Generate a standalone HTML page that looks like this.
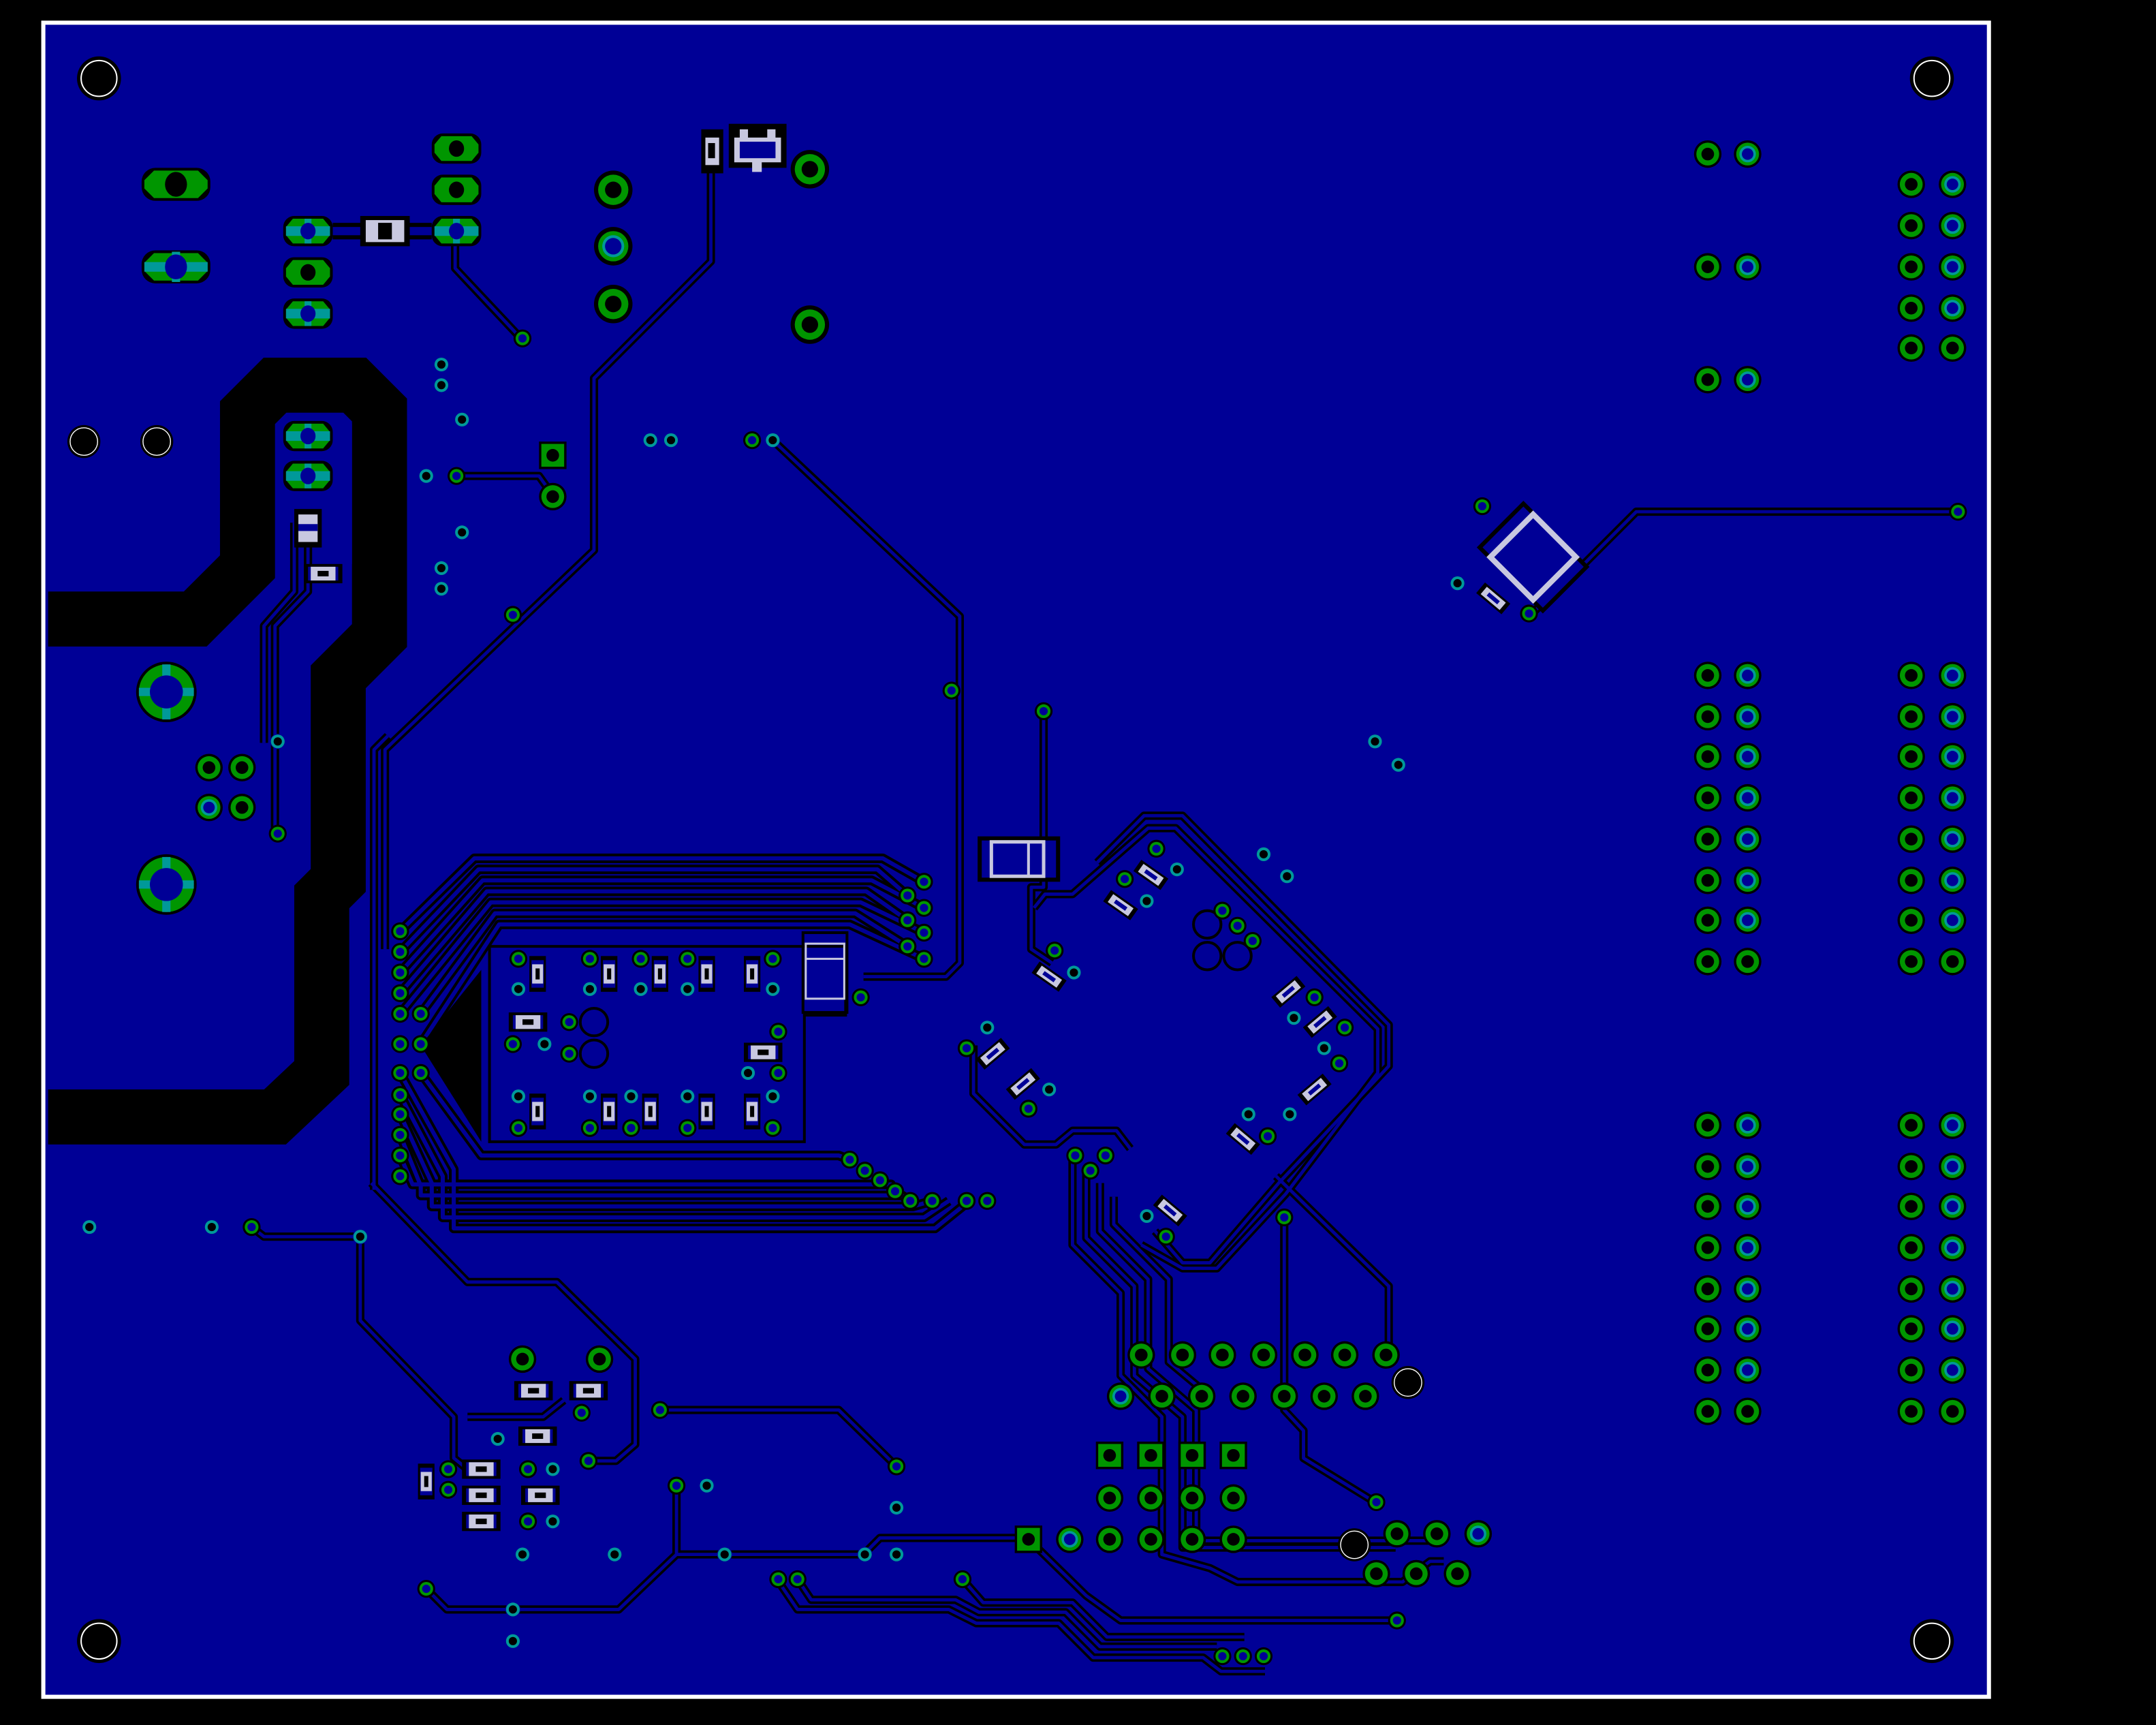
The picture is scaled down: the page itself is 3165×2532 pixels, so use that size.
<!DOCTYPE html>
<html><head><meta charset="utf-8"><style>html,body{margin:0;padding:0;background:#000}svg{display:block}</style></head>
<body>
<svg xmlns="http://www.w3.org/2000/svg" xmlns:xlink="http://www.w3.org/1999/xlink" width="3165" height="2532" viewBox="0 0 1568 1254" preserveAspectRatio="none">
<defs>
<g id="pad"><circle r="10" fill="#000"/><circle r="8.3" fill="#009600"/><circle r="4.6" fill="#000"/></g>
<g id="padc"><circle r="10" fill="#000"/><circle r="8.3" fill="#009600"/><circle r="6" fill="#009999"/><circle r="4.2" fill="#000096"/></g>
<g id="sq"><rect x="-10" y="-10" width="20" height="20" fill="#000"/><rect x="-8.3" y="-8.3" width="16.6" height="16.6" fill="#009600"/><circle r="4.6" fill="#000"/></g>
<g id="vg"><circle r="6.5" fill="#000"/><circle r="5" fill="#009600"/><circle r="3" fill="#000096"/></g>
<g id="vc"><circle r="5.5" fill="#000096"/><circle r="5" fill="#009999"/><circle r="3" fill="#000"/></g>
<g id="hole"><circle r="16" fill="#000"/><circle r="13" fill="none" stroke="#fff" stroke-width="1"/></g>
<g id="hs"><circle r="12" fill="#000"/><circle r="10" fill="none" stroke="#fff" stroke-width="0.7"/></g>
<g id="ov"><rect x="-25" y="-12" width="50" height="24" rx="10" fill="#000"/><path d="M-16,-10 H16 L23,-3 V3 L16,10 H-16 L-23,3 V-3Z" fill="#009600"/><ellipse rx="8" ry="9" fill="#000"/></g>
<g id="ovs"><rect x="-18" y="-11" width="36" height="22" rx="8" fill="#000"/><path d="M-11,-9 H11 L16,-3 V3 L11,9 H-11 L-16,3 V-3Z" fill="#009600"/><ellipse rx="5.5" ry="6" fill="#000"/></g>
<g id="ovc"><rect x="-18" y="-11" width="36" height="22" rx="8" fill="#000"/><path d="M-11,-9 H11 L16,-3 V3 L11,9 H-11 L-16,3 V-3Z" fill="#009600"/><rect x="-16" y="-3.5" width="32" height="7" fill="#009999"/><rect x="-2.5" y="-9" width="5" height="18" fill="#009999"/><ellipse rx="5.5" ry="6" fill="#000096"/></g>
<g id="ring"><circle r="22" fill="#000"/><circle r="20" fill="#009600"/><rect x="-20" y="-3" width="40" height="6" fill="#009999"/><rect x="-3" y="-20" width="6" height="40" fill="#009999"/><circle r="12" fill="#000096"/></g>
<g id="smd"><rect x="-9" y="-9" width="18" height="18" fill="#000"/><rect x="-7" y="-5" width="14" height="10" fill="#000096"/><rect x="-5" y="-5" width="10" height="10" fill="#c8c8e0"/><rect x="-2" y="-3" width="4" height="6" fill="#000"/></g>
<g id="smv"><rect x="-6" y="-13" width="12" height="26" fill="#000"/><rect x="-4.5" y="-10" width="9" height="20" fill="#000096"/><rect x="-4" y="-7" width="8" height="14" fill="#c8c8e0"/><rect x="-1.5" y="-4" width="3" height="8" fill="#000"/></g>
<g id="smh"><rect x="-14" y="-7" width="28" height="14" fill="#000"/><rect x="-11" y="-5" width="22" height="10" fill="#000096"/><rect x="-9" y="-5" width="18" height="10" fill="#c8c8e0"/><rect x="-4" y="-2" width="8" height="4" fill="#000"/></g>
<g id="dia"><rect x="-12" y="-5" width="24" height="10" fill="#000"/><rect x="-9" y="-3.5" width="18" height="7" fill="#c8c8e0"/><rect x="-5" y="-1.5" width="10" height="3" fill="#000096"/></g>
<g id="tr">
<path d="M331,168 V195 L378,245"/>
<path d="M517,110 V190 L432,275 V400 L280,545 V690"/>
<path d="M562,320 L698,448 V700 L688,710 H628"/>
<path d="M759,517 V645 H750 V690 L765,700"/>
<path d="M332,346 H392 L402,360"/>
<path d="M224,380 V430 L200,455 V605"/>
<path d="M214,380 V430 L192,455 V540"/>
<path d="M183,892 L192,899 H262"/>
<path d="M1112,448 L1150,412 L1190,372 H1424"/>
<path d="M934,885 V1025 L948,1040 V1060 L1000,1092"/>
<path d="M928,855 L1010,935 V985"/>
<path d="M480,1025 H610 L652,1066"/>
<path d="M492,1080 V1130 H628 L640,1118 H748"/>
<path d="M310,1155 L325,1170 H450 L492,1130"/>
<path d="M565,1148 L580,1170 H690 L710,1180 H770 L795,1205 H875 L888,1215 H920"/>
<path d="M580,1148 L590,1163 H695 L712,1172 H775 L800,1197 H885"/>
<path d="M700,1148 L715,1165 H780 L805,1190 H905"/>
<path d="M748,1119 L790,1160 L815,1178 H1016"/>
<path d="M780,840 V905 L815,940 V1000 L845,1030 V1130 L880,1140 L900,1150 H1020 L1040,1135 L1050,1135"/>
<path d="M790,850 V900 L825,935 V1000 L860,1030 V1125 H1015"/>
<path d="M800,860 V895 L835,930 V995 L870,1025 V1120 H1050"/>
<path d="M810,870 V890 L850,930 V990 L880,1015"/>
<path d="M270,860 L340,932 H405 L462,988 V1050 L448,1062 H428"/>
<path d="M262,900 V960 L330,1030 V1060 L340,1068"/>
<path d="M340,1030 H395 L410,1018"/>
<path d="M840,895 L860,918 H880 L930,860 L1010,775 V745 L860,593 H832 L798,627"/>
<path d="M830,905 L860,922 H885 L935,868 L1002,780 V748 L855,602 H835 L780,650 H760 L752,660"/>
<path d="M708,760 V795 L745,832 H768 L780,822 H812 L822,835"/>
<path d="M272,865 V545 L282,535"/>
</g>
<g id="bus">
<path d="M291,677 L345,624 H642 L672,641"/>
<path d="M291,692 L348,632 H638 L660,651"/>
<path d="M291,707 L351,640 H634 L672,660"/>
<path d="M291,722 L354,648 H630 L660,669"/>
<path d="M291,737 L357,656 H626 L672,678"/>
<path d="M306,737 L360,664 H622 L660,688"/>
<path d="M306,759 L363,672 H618 L672,697"/>
<path d="M291,780 L330,850 V893 H680 L705,873"/>
<path d="M291,796 L322,855 V885 H672 L690,873"/>
<path d="M291,810 L314,860 V877 H664 L678,873"/>
<path d="M291,825 L306,862 V869 H656 L662,873"/>
<path d="M291,840 L300,861 H648 L651,866"/>
<path d="M306,780 L350,840 H610 L618,843"/>
</g>
</defs>
<rect width="1568" height="1254" fill="#000"/>
<rect x="31.5" y="16.5" width="1415" height="1217" fill="#000096" stroke="#fff" stroke-width="3"/>

<g fill="none" stroke="#000" stroke-linejoin="miter">
<path d="M35,450 H142 L180,412 V300 L200,280 H258 L276,298 V462 L246,492 V640 L234,652 V780 L200,812 H35" stroke-width="40"/>
</g>
<path d="M205,302 H250 L256,308 V410 L240,428 V302Z" fill="#000096"/>

<g fill="none" stroke-linejoin="round">
<use href="#tr" stroke="#000" stroke-width="6"/>
<use href="#tr" stroke="#000096" stroke-width="2.4"/>
<use href="#bus" stroke="#000" stroke-width="7"/>
<use href="#bus" stroke="#000096" stroke-width="3"/>
</g>
<path d="M306,760 L350,705 V830Z" fill="#000"/>

<g fill="none" stroke="#000" stroke-width="2">
<path d="M356,688 H615 V738 H585 V830 H356Z"/>
<rect x="584" y="678" width="32" height="58"/>
</g>
<rect x="586" y="686" width="28" height="40" fill="none" stroke="#c8c8e0" stroke-width="1.5"/>
<line x1="586" y1="697" x2="614" y2="697" stroke="#c8c8e0" stroke-width="1.5"/>

<g>
<use href="#smv" x="391" y="708"/><use href="#smv" x="443" y="708"/><use href="#smv" x="480" y="708"/><use href="#smv" x="514" y="708"/><use href="#smv" x="547" y="708"/>
<use href="#smv" x="391" y="808"/><use href="#smv" x="443" y="808"/><use href="#smv" x="473" y="808"/><use href="#smv" x="514" y="808"/><use href="#smv" x="547" y="808"/>
<use href="#smh" x="384" y="743"/><use href="#smh" x="555" y="765"/>
</g>
<g fill="none" stroke="#000" stroke-width="2"><circle cx="432" cy="743" r="10"/><circle cx="432" cy="766" r="10"/><circle cx="878" cy="672" r="10"/><circle cx="878" cy="695" r="10"/><circle cx="900" cy="695" r="10"/></g>

<g>
<use href="#dia" transform="translate(837,636) rotate(35)"/>
<use href="#dia" transform="translate(815,658) rotate(35)"/>
<use href="#dia" transform="translate(763,710) rotate(35)"/>
<use href="#dia" transform="translate(722,766) rotate(-40)"/>
<use href="#dia" transform="translate(744,788) rotate(-40)"/>
<use href="#dia" transform="translate(937,721) rotate(-40)"/>
<use href="#dia" transform="translate(960,743) rotate(-40)"/>
<use href="#dia" transform="translate(956,792) rotate(-40)"/>
<use href="#dia" transform="translate(904,828) rotate(40)"/>
<use href="#dia" transform="translate(851,880) rotate(40)"/>
<use href="#dia" transform="translate(1086,435) rotate(40)"/>
</g>
<g transform="translate(1115,405) rotate(45)">
<rect x="-34" y="-24" width="68" height="48" fill="#000"/><rect x="-31" y="-21" width="62" height="42" fill="#000096"/>
<rect x="-22" y="-22" width="44" height="44" fill="none" stroke="#c8c8e0" stroke-width="4"/>
</g>
<rect x="711" y="608" width="60" height="33" fill="#000"/><rect x="714" y="611" width="54" height="27" fill="#000096"/>
<rect x="721" y="612" width="38" height="25" fill="none" stroke="#c8c8e0" stroke-width="2.5"/><line x1="748" y1="612" x2="748" y2="637" stroke="#c8c8e0" stroke-width="2"/>
<rect x="510" y="94" width="16" height="32" fill="#000"/><rect x="513" y="100" width="10" height="20" fill="#c8c8e0"/><rect x="515" y="104" width="5" height="11" fill="#000"/>
<rect x="530" y="90" width="42" height="32" fill="#000"/><rect x="534" y="100" width="34" height="18" fill="#c8c8e0"/><rect x="538" y="103" width="26" height="12" fill="#000096"/>
<rect x="538" y="94" width="6" height="8" fill="#c8c8e0"/><rect x="558" y="94" width="6" height="8" fill="#c8c8e0"/><rect x="547" y="117" width="7" height="8" fill="#c8c8e0"/>

<use href="#ov" x="128" y="134"/><use href="#ov" x="128" y="194"/>
<g transform="translate(128,194)"><rect x="-23" y="-3.5" width="46" height="7" fill="#009999"/><rect x="-3" y="-11" width="6" height="22" fill="#009999"/><ellipse rx="8" ry="9" fill="#000096"/></g>
<rect x="242" y="162" width="72" height="12" fill="#000"/><rect x="242" y="165" width="72" height="6" fill="#000096"/>
<use href="#ovs" x="332" y="108"/><use href="#ovs" x="332" y="138"/><use href="#ovc" x="332" y="168"/>
<use href="#ovc" x="224" y="168"/><use href="#ovs" x="224" y="198"/><use href="#ovc" x="224" y="228"/>
<use href="#ovc" x="224" y="317"/><use href="#ovc" x="224" y="346"/>
<rect x="262" y="157" width="36" height="22" fill="#000"/><rect x="266" y="160" width="28" height="16" fill="#c8c8e0"/><rect x="275" y="162" width="10" height="12" fill="#000"/>
<rect x="214" y="370" width="20" height="28" fill="#000"/><rect x="217" y="374" width="14" height="20" fill="#c8c8e0"/><rect x="217" y="381" width="14" height="5" fill="#000096"/>
<use href="#smh" x="235" y="417"/>
<use href="#ring" x="121" y="503"/><use href="#ring" x="121" y="643"/>
<use href="#pad" x="152" y="558"/><use href="#pad" x="176" y="558"/><use href="#padc" x="152" y="587"/><use href="#pad" x="176" y="587"/>
<use href="#hs" x="61" y="321"/><use href="#hs" x="114" y="321"/>

<use href="#hole" x="72" y="57"/><use href="#hole" x="1405" y="57"/><use href="#hole" x="72" y="1193"/><use href="#hole" x="1405" y="1193"/>
<use href="#hs" x="1024" y="1005"/><use href="#hs" x="985" y="1123"/>

<g>
<circle cx="446" cy="138" r="14" fill="#000"/><circle cx="446" cy="138" r="11" fill="#009600"/><circle cx="446" cy="138" r="6" fill="#000"/>
<circle cx="446" cy="179" r="14" fill="#000"/><circle cx="446" cy="179" r="11" fill="#009600"/><circle cx="446" cy="179" r="8" fill="#009999"/><circle cx="446" cy="179" r="6" fill="#000096"/>
<circle cx="446" cy="221" r="14" fill="#000"/><circle cx="446" cy="221" r="11" fill="#009600"/><circle cx="446" cy="221" r="6" fill="#000"/>
<circle cx="589" cy="123" r="14" fill="#000"/><circle cx="589" cy="123" r="11" fill="#009600"/><circle cx="589" cy="123" r="6" fill="#000"/>
<circle cx="589" cy="236" r="14" fill="#000"/><circle cx="589" cy="236" r="11" fill="#009600"/><circle cx="589" cy="236" r="6" fill="#000"/>
</g>
<use href="#sq" x="402" y="331"/><use href="#pad" x="402" y="361"/>

<g>
<use href="#pad" x="1242" y="112"/><use href="#padc" x="1271" y="112"/>
<use href="#pad" x="1242" y="194"/><use href="#padc" x="1271" y="194"/>
<use href="#pad" x="1242" y="276"/><use href="#padc" x="1271" y="276"/>
<use href="#pad" x="1390" y="134"/><use href="#padc" x="1420" y="134"/>
<use href="#pad" x="1390" y="164"/><use href="#padc" x="1420" y="164"/>
<use href="#pad" x="1390" y="194"/><use href="#padc" x="1420" y="194"/>
<use href="#pad" x="1390" y="224"/><use href="#padc" x="1420" y="224"/>
<use href="#pad" x="1390" y="253"/><use href="#pad" x="1420" y="253"/>
</g>
<g>
<use href="#pad" x="1242" y="491"/><use href="#padc" x="1271" y="491"/><use href="#pad" x="1390" y="491"/><use href="#padc" x="1420" y="491"/>
<use href="#pad" x="1242" y="521"/><use href="#padc" x="1271" y="521"/><use href="#pad" x="1390" y="521"/><use href="#padc" x="1420" y="521"/>
<use href="#pad" x="1242" y="550"/><use href="#padc" x="1271" y="550"/><use href="#pad" x="1390" y="550"/><use href="#padc" x="1420" y="550"/>
<use href="#pad" x="1242" y="580"/><use href="#padc" x="1271" y="580"/><use href="#pad" x="1390" y="580"/><use href="#padc" x="1420" y="580"/>
<use href="#pad" x="1242" y="610"/><use href="#padc" x="1271" y="610"/><use href="#pad" x="1390" y="610"/><use href="#padc" x="1420" y="610"/>
<use href="#pad" x="1242" y="640"/><use href="#padc" x="1271" y="640"/><use href="#pad" x="1390" y="640"/><use href="#padc" x="1420" y="640"/>
<use href="#pad" x="1242" y="669"/><use href="#padc" x="1271" y="669"/><use href="#pad" x="1390" y="669"/><use href="#padc" x="1420" y="669"/>
<use href="#pad" x="1242" y="699"/><use href="#pad" x="1271" y="699"/><use href="#pad" x="1390" y="699"/><use href="#pad" x="1420" y="699"/>
</g>
<g>
<use href="#pad" x="1242" y="818"/><use href="#padc" x="1271" y="818"/><use href="#pad" x="1390" y="818"/><use href="#padc" x="1420" y="818"/>
<use href="#pad" x="1242" y="848"/><use href="#padc" x="1271" y="848"/><use href="#pad" x="1390" y="848"/><use href="#padc" x="1420" y="848"/>
<use href="#pad" x="1242" y="877"/><use href="#padc" x="1271" y="877"/><use href="#pad" x="1390" y="877"/><use href="#padc" x="1420" y="877"/>
<use href="#pad" x="1242" y="907"/><use href="#padc" x="1271" y="907"/><use href="#pad" x="1390" y="907"/><use href="#padc" x="1420" y="907"/>
<use href="#pad" x="1242" y="937"/><use href="#padc" x="1271" y="937"/><use href="#pad" x="1390" y="937"/><use href="#padc" x="1420" y="937"/>
<use href="#pad" x="1242" y="966"/><use href="#padc" x="1271" y="966"/><use href="#pad" x="1390" y="966"/><use href="#padc" x="1420" y="966"/>
<use href="#pad" x="1242" y="996"/><use href="#padc" x="1271" y="996"/><use href="#pad" x="1390" y="996"/><use href="#padc" x="1420" y="996"/>
<use href="#pad" x="1242" y="1026"/><use href="#pad" x="1271" y="1026"/><use href="#pad" x="1390" y="1026"/><use href="#pad" x="1420" y="1026"/>
</g>

<g>
<use href="#pad" x="830" y="985"/><use href="#pad" x="860" y="985"/><use href="#pad" x="889" y="985"/><use href="#pad" x="919" y="985"/><use href="#pad" x="949" y="985"/><use href="#pad" x="978" y="985"/><use href="#pad" x="1008" y="985"/>
<use href="#padc" x="815" y="1015"/><use href="#pad" x="845" y="1015"/><use href="#pad" x="874" y="1015"/><use href="#pad" x="904" y="1015"/><use href="#pad" x="934" y="1015"/><use href="#pad" x="963" y="1015"/><use href="#pad" x="993" y="1015"/>
<use href="#sq" x="807" y="1058"/><use href="#sq" x="837" y="1058"/><use href="#sq" x="867" y="1058"/><use href="#sq" x="897" y="1058"/>
<use href="#pad" x="807" y="1089"/><use href="#pad" x="837" y="1089"/><use href="#pad" x="867" y="1089"/><use href="#pad" x="897" y="1089"/>
<use href="#sq" x="748" y="1119"/><use href="#padc" x="778" y="1119"/><use href="#pad" x="807" y="1119"/><use href="#pad" x="837" y="1119"/><use href="#pad" x="867" y="1119"/><use href="#pad" x="897" y="1119"/>
<use href="#pad" x="1016" y="1115"/><use href="#pad" x="1045" y="1115"/><use href="#padc" x="1075" y="1115"/>
<use href="#pad" x="1001" y="1144"/><use href="#pad" x="1030" y="1144"/><use href="#pad" x="1060" y="1144"/>
<use href="#pad" x="380" y="988"/><use href="#pad" x="436" y="988"/>
</g>
<g>
<use href="#smh" x="388" y="1011"/><use href="#smh" x="428" y="1011"/><use href="#smh" x="391" y="1044"/>
<use href="#smh" x="350" y="1068"/><use href="#smh" x="350" y="1087"/><use href="#smh" x="350" y="1106"/><use href="#smh" x="393" y="1087"/>
<use href="#smv" x="310" y="1077"/>
</g>

<g>
<use href="#vg" x="380" y="246"/><use href="#vg" x="332" y="346"/><use href="#vg" x="373" y="447"/>
<use href="#vg" x="202" y="606"/><use href="#vg" x="692" y="502"/><use href="#vg" x="759" y="517"/><use href="#vg" x="547" y="320"/>
<use href="#vg" x="1078" y="368"/><use href="#vg" x="1424" y="372"/><use href="#vg" x="1112" y="446"/>
<use href="#vg" x="183" y="892"/><use href="#vg" x="480" y="1025"/><use href="#vg" x="652" y="1066"/><use href="#vg" x="492" y="1080"/>
<use href="#vg" x="310" y="1155"/><use href="#vg" x="428" y="1062"/><use href="#vg" x="423" y="1027"/><use href="#vg" x="566" y="1148"/><use href="#vg" x="580" y="1148"/><use href="#vg" x="700" y="1148"/><use href="#vg" x="1016" y="1178"/>
<use href="#vg" x="889" y="1204"/><use href="#vg" x="904" y="1204"/><use href="#vg" x="919" y="1204"/><use href="#vg" x="934" y="885"/><use href="#vg" x="1001" y="1092"/>
<use href="#vg" x="626" y="725"/><use href="#vg" x="767" y="691"/><use href="#vg" x="748" y="806"/><use href="#vg" x="703" y="762"/>
<use href="#vg" x="841" y="617"/><use href="#vg" x="818" y="639"/><use href="#vg" x="889" y="662"/><use href="#vg" x="900" y="673"/><use href="#vg" x="911" y="684"/>
<use href="#vg" x="956" y="725"/><use href="#vg" x="978" y="747"/><use href="#vg" x="974" y="773"/><use href="#vg" x="922" y="826"/><use href="#vg" x="848" y="899"/>
<use href="#vg" x="782" y="840"/><use href="#vg" x="804" y="840"/><use href="#vg" x="793" y="851"/>
<use href="#vg" x="672" y="641"/><use href="#vg" x="660" y="651"/><use href="#vg" x="672" y="660"/><use href="#vg" x="660" y="669"/><use href="#vg" x="672" y="678"/><use href="#vg" x="660" y="688"/><use href="#vg" x="672" y="697"/>
<use href="#vg" x="618" y="843"/><use href="#vg" x="629" y="851"/><use href="#vg" x="640" y="858"/><use href="#vg" x="651" y="866"/><use href="#vg" x="662" y="873"/><use href="#vg" x="678" y="873"/><use href="#vg" x="703" y="873"/><use href="#vg" x="718" y="873"/>
<use href="#vg" x="291" y="677"/><use href="#vg" x="291" y="692"/><use href="#vg" x="291" y="707"/><use href="#vg" x="291" y="722"/><use href="#vg" x="291" y="737"/><use href="#vg" x="306" y="737"/><use href="#vg" x="291" y="759"/><use href="#vg" x="306" y="759"/>
<use href="#vg" x="291" y="780"/><use href="#vg" x="306" y="780"/><use href="#vg" x="291" y="796"/><use href="#vg" x="291" y="810"/><use href="#vg" x="291" y="825"/><use href="#vg" x="291" y="840"/><use href="#vg" x="291" y="855"/>
<use href="#vg" x="377" y="697"/><use href="#vg" x="429" y="697"/><use href="#vg" x="466" y="697"/><use href="#vg" x="500" y="697"/><use href="#vg" x="562" y="697"/>
<use href="#vg" x="373" y="759"/><use href="#vg" x="414" y="743"/><use href="#vg" x="414" y="766"/><use href="#vg" x="566" y="750"/><use href="#vg" x="566" y="780"/>
<use href="#vg" x="377" y="820"/><use href="#vg" x="429" y="820"/><use href="#vg" x="459" y="820"/><use href="#vg" x="500" y="820"/><use href="#vg" x="562" y="820"/>
<use href="#vg" x="326" y="1068"/><use href="#vg" x="326" y="1083"/><use href="#vg" x="384" y="1068"/><use href="#vg" x="384" y="1106"/>
</g>
<g>
<use href="#vc" x="321" y="265"/><use href="#vc" x="321" y="280"/><use href="#vc" x="336" y="305"/><use href="#vc" x="310" y="346"/><use href="#vc" x="336" y="387"/><use href="#vc" x="321" y="413"/><use href="#vc" x="321" y="428"/>
<use href="#vc" x="473" y="320"/><use href="#vc" x="488" y="320"/><use href="#vc" x="562" y="320"/><use href="#vc" x="202" y="539"/>
<use href="#vc" x="1000" y="539"/><use href="#vc" x="1017" y="556"/><use href="#vc" x="919" y="621"/><use href="#vc" x="936" y="637"/><use href="#vc" x="1060" y="424"/>
<use href="#vc" x="65" y="892"/><use href="#vc" x="154" y="892"/><use href="#vc" x="262" y="899"/>
<use href="#vc" x="377" y="719"/><use href="#vc" x="429" y="719"/><use href="#vc" x="466" y="719"/><use href="#vc" x="500" y="719"/><use href="#vc" x="562" y="719"/>
<use href="#vc" x="396" y="759"/><use href="#vc" x="544" y="780"/>
<use href="#vc" x="377" y="797"/><use href="#vc" x="429" y="797"/><use href="#vc" x="459" y="797"/><use href="#vc" x="500" y="797"/><use href="#vc" x="562" y="797"/>
<use href="#vc" x="856" y="632"/><use href="#vc" x="834" y="655"/><use href="#vc" x="781" y="707"/><use href="#vc" x="718" y="747"/><use href="#vc" x="763" y="792"/>
<use href="#vc" x="941" y="740"/><use href="#vc" x="963" y="762"/><use href="#vc" x="938" y="810"/><use href="#vc" x="908" y="810"/><use href="#vc" x="834" y="884"/>
<use href="#vc" x="362" y="1046"/><use href="#vc" x="402" y="1068"/><use href="#vc" x="402" y="1106"/><use href="#vc" x="380" y="1130"/><use href="#vc" x="447" y="1130"/>
<use href="#vc" x="514" y="1080"/><use href="#vc" x="527" y="1130"/><use href="#vc" x="629" y="1130"/><use href="#vc" x="652" y="1096"/><use href="#vc" x="652" y="1130"/>
<use href="#vc" x="373" y="1170"/><use href="#vc" x="373" y="1193"/>
</g>
</svg>
</body></html>
